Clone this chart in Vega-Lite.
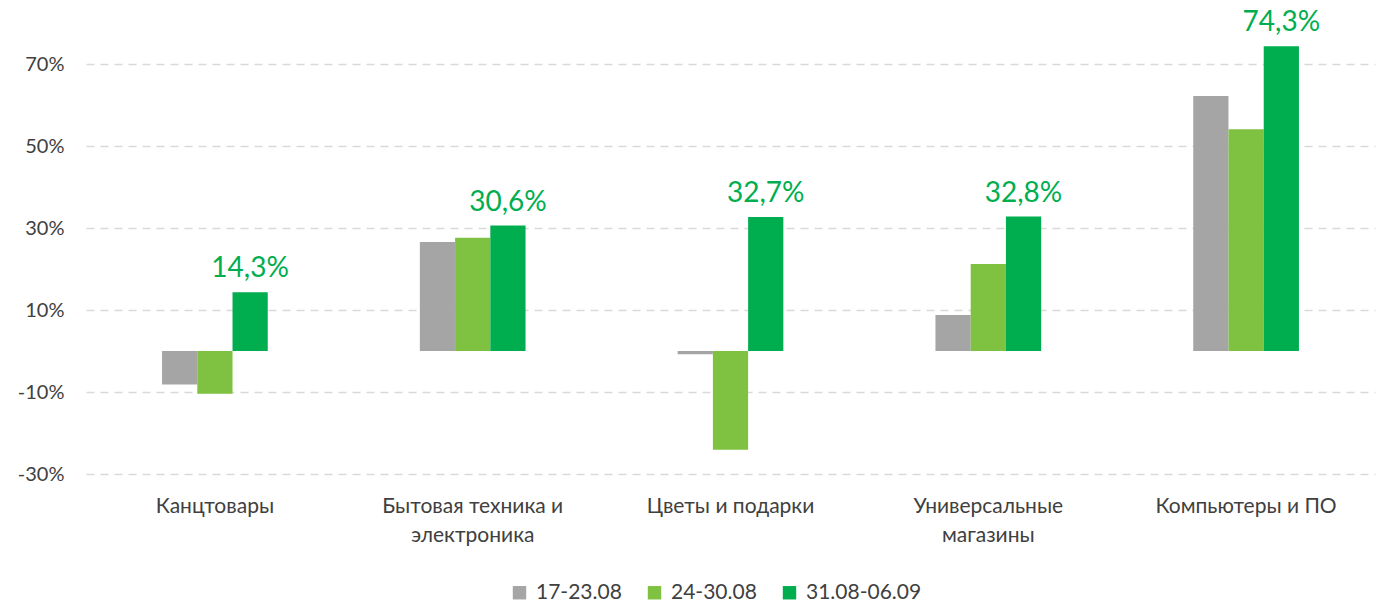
{
  "$schema": "https://vega.github.io/schema/vega-lite/v6.json",
  "width": 1289,
  "height": 451,
  "autosize": "none",
  "padding": {"left": 86, "top": 23, "right": 2, "bottom": 130},
  "config": {
    "view": {"stroke": null},
    "font": "Lato",
    "locale": {"number": {"decimal": ",", "thousands": " ", "grouping": [3], "currency": ["", " ₽"], "minus": "-"}}
  },
  "data": {
    "values": [
      {"cat": "Канцтовары", "series": "17-23.08", "value": -0.082},
      {"cat": "Канцтовары", "series": "24-30.08", "value": -0.104},
      {"cat": "Канцтовары", "series": "31.08-06.09", "value": 0.143},
      {"cat": "Бытовая техника и электроника", "series": "17-23.08", "value": 0.266},
      {"cat": "Бытовая техника и электроника", "series": "24-30.08", "value": 0.276},
      {"cat": "Бытовая техника и электроника", "series": "31.08-06.09", "value": 0.306},
      {"cat": "Цветы и подарки", "series": "17-23.08", "value": -0.008},
      {"cat": "Цветы и подарки", "series": "24-30.08", "value": -0.241},
      {"cat": "Цветы и подарки", "series": "31.08-06.09", "value": 0.327},
      {"cat": "Универсальные магазины", "series": "17-23.08", "value": 0.088},
      {"cat": "Универсальные магазины", "series": "24-30.08", "value": 0.212},
      {"cat": "Универсальные магазины", "series": "31.08-06.09", "value": 0.328},
      {"cat": "Компьютеры и ПО", "series": "17-23.08", "value": 0.622},
      {"cat": "Компьютеры и ПО", "series": "24-30.08", "value": 0.541},
      {"cat": "Компьютеры и ПО", "series": "31.08-06.09", "value": 0.743}
    ]
  },
  "encoding": {
    "x": {
      "field": "cat",
      "type": "nominal",
      "sort": null,
      "scale": {"paddingInner": 0.59, "paddingOuter": 0.295},
      "axis": {
        "title": null,
        "domain": false,
        "ticks": false,
        "labelAngle": 0,
        "labelFont": "Lato",
        "labelFontSize": 21,
        "labelColor": "#404040",
        "labelPadding": 21,
        "labelBaseline": "top",
        "labelLineHeight": 29,
        "labelLimit": 400,
        "labelExpr": "datum.label == 'Бытовая техника и электроника' ? ['Бытовая техника и', 'электроника'] : datum.label == 'Универсальные магазины' ? ['Универсальные', 'магазины'] : datum.label"
      }
    }
  },
  "layer": [
    {
      "mark": {"type": "bar"},
      "encoding": {
        "xOffset": {"field": "series", "type": "nominal", "sort": null, "scale": {"paddingInner": 0, "paddingOuter": 0}},
        "y": {
          "field": "value",
          "type": "quantitative",
          "scale": {"domain": [-0.3, 0.8], "nice": false, "zero": false},
          "axis": {
            "title": null,
            "domain": false,
            "ticks": false,
            "values": [-0.3, -0.1, 0.1, 0.3, 0.5, 0.7],
            "format": ".0%",
            "labelFont": "Lato",
            "labelFontSize": 20,
            "labelColor": "#404040",
            "labelPadding": 22,
            "grid": true,
            "gridColor": "#d9d9d9",
            "gridWidth": 1.5,
            "gridDash": [8, 6]
          }
        },
        "color": {
          "field": "series",
          "type": "nominal",
          "sort": null,
          "scale": {"domain": ["17-23.08", "24-30.08", "31.08-06.09"], "range": ["#a5a5a5", "#7fc241", "#00ae4f"]},
          "legend": {
            "title": null,
            "orient": "none",
            "direction": "horizontal",
            "legendX": 423,
            "legendY": 559,
            "symbolType": "square",
            "symbolSize": 180,
            "symbolStrokeWidth": 0,
            "labelFont": "Lato",
            "labelFontSize": 21,
            "labelColor": "#404040",
            "labelOffset": 6,
            "columnPadding": 22
          }
        }
      }
    },
    {
      "mark": {"type": "rule", "color": "#d9d9d9", "strokeWidth": 1.5},
      "encoding": {"y": {"datum": 0, "type": "quantitative"}}
    },
    {
      "transform": [{"filter": "datum.series == '31.08-06.09'"}],
      "mark": {"type": "text", "baseline": "bottom", "dy": -9, "fontSize": 28, "font": "Lato", "color": "#00ae4f"},
      "encoding": {
        "xOffset": {"field": "series", "type": "nominal", "sort": null, "scale": {"domain": ["17-23.08", "24-30.08", "31.08-06.09"]}},
        "y": {"field": "value", "type": "quantitative"},
        "text": {"field": "value", "type": "quantitative", "format": ".1%"}
      }
    }
  ]
}
